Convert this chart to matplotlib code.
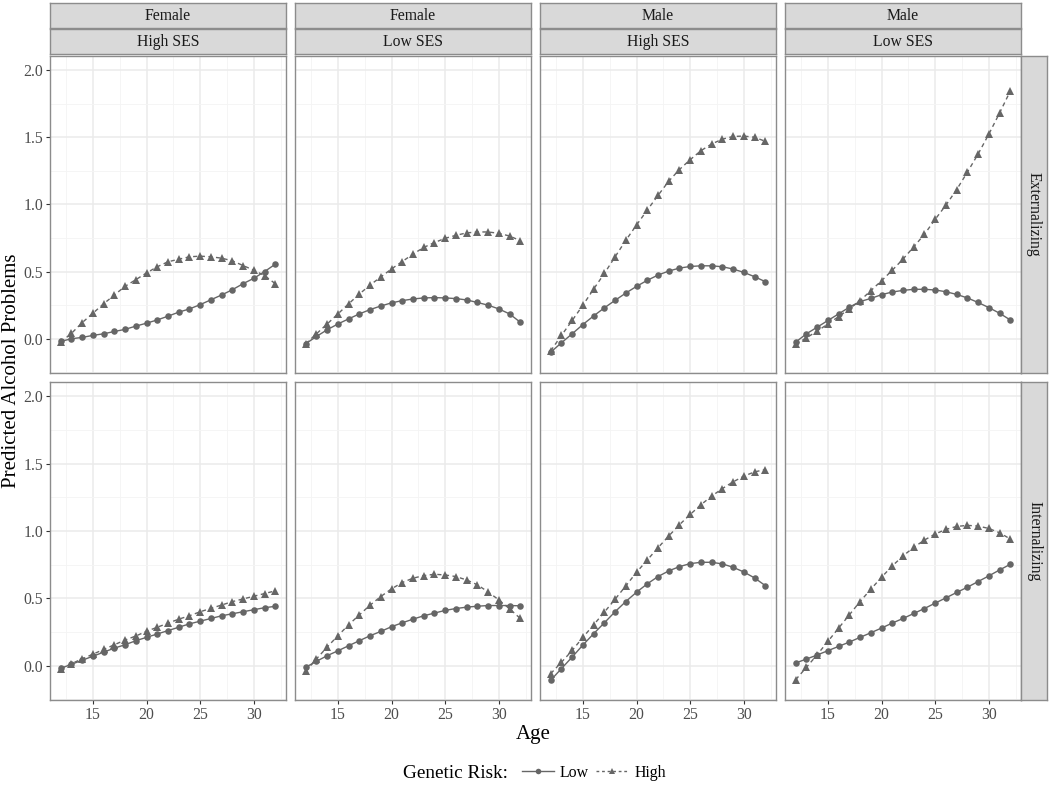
import matplotlib

matplotlib.use("Agg")

import matplotlib.pyplot as plt
from matplotlib.lines import Line2D

plt.rcParams["font.family"] = ["Liberation Serif", "DejaVu Serif"]

W, H = 1050, 785

ages = [12, 13, 14, 15, 16, 17, 18, 19, 20, 21, 22, 23, 24, 25, 26, 27, 28, 29, 30, 31, 32]

sex_labels = ["Female", "Female", "Male", "Male"]
ses_labels = ["High SES", "Low SES", "High SES", "Low SES"]
outcome_labels = ["Externalizing", "Internalizing"]

# Externalizing
ext_fh_low = [-0.02, 0.00, 0.01, 0.025, 0.037, 0.054, 0.07, 0.094, 0.116, 0.14, 0.168,
              0.198, 0.222, 0.254, 0.29, 0.326, 0.365, 0.41, 0.45, 0.50, 0.555]
ext_fh_high = [-0.025, 0.04, 0.12, 0.19, 0.26, 0.326, 0.39, 0.44, 0.49, 0.536, 0.573,
               0.592, 0.61, 0.615, 0.61, 0.60, 0.58, 0.545, 0.51, 0.47, 0.41]
ext_fl_low = [-0.037, 0.017, 0.067, 0.11, 0.148, 0.185, 0.217, 0.244, 0.267, 0.284, 0.296,
              0.304, 0.306, 0.304, 0.299, 0.289, 0.27, 0.25, 0.222, 0.185, 0.123]
ext_fl_high = [-0.037, 0.037, 0.11, 0.185, 0.26, 0.333, 0.40, 0.46, 0.52, 0.575, 0.63,
               0.68, 0.716, 0.748, 0.77, 0.788, 0.795, 0.795, 0.785, 0.765, 0.73]
ext_mh_low = [-0.10, -0.03, 0.037, 0.106, 0.17, 0.23, 0.286, 0.34, 0.39, 0.435, 0.474,
              0.504, 0.526, 0.538, 0.543, 0.543, 0.536, 0.519, 0.494, 0.462, 0.425]
ext_mh_high = [-0.09, 0.025, 0.136, 0.25, 0.37, 0.486, 0.61, 0.733, 0.847, 0.958, 1.067,
               1.173, 1.26, 1.333, 1.40, 1.45, 1.486, 1.506, 1.509, 1.50, 1.47]
ext_ml_low = [-0.025, 0.037, 0.086, 0.136, 0.185, 0.235, 0.277, 0.30, 0.328, 0.348, 0.36,
              0.368, 0.368, 0.363, 0.35, 0.33, 0.304, 0.27, 0.232, 0.19, 0.14]
ext_ml_high = [-0.042, 0.007, 0.057, 0.11, 0.165, 0.222, 0.284, 0.358, 0.432, 0.51, 0.593,
               0.684, 0.778, 0.889, 0.995, 1.11, 1.24, 1.375, 1.523, 1.68, 1.844]

# Internalizing
int_fh_low = [-0.02, 0.01, 0.04, 0.07, 0.10, 0.13, 0.155, 0.185, 0.21, 0.235, 0.26,
              0.285, 0.31, 0.33, 0.35, 0.37, 0.385, 0.40, 0.415, 0.43, 0.44]
int_fh_high = [-0.025, 0.015, 0.05, 0.085, 0.12, 0.155, 0.19, 0.22, 0.255, 0.285, 0.315,
               0.345, 0.37, 0.40, 0.425, 0.45, 0.475, 0.495, 0.515, 0.535, 0.555]
int_fl_low = [-0.012, 0.032, 0.074, 0.11, 0.148, 0.185, 0.222, 0.254, 0.289, 0.318, 0.345,
              0.37, 0.39, 0.41, 0.424, 0.434, 0.441, 0.446, 0.446, 0.446, 0.444]
int_fl_high = [-0.042, 0.05, 0.138, 0.222, 0.303, 0.377, 0.449, 0.513, 0.57, 0.617, 0.649,
               0.668, 0.678, 0.673, 0.661, 0.636, 0.60, 0.547, 0.488, 0.422, 0.35]
int_mh_low = [-0.108, -0.022, 0.064, 0.153, 0.237, 0.318, 0.40, 0.476, 0.545, 0.607, 0.661,
              0.703, 0.735, 0.757, 0.767, 0.767, 0.755, 0.73, 0.695, 0.651, 0.594]
int_mh_high = [-0.059, 0.025, 0.113, 0.21, 0.303, 0.397, 0.493, 0.592, 0.693, 0.784, 0.875,
               0.962, 1.046, 1.122, 1.194, 1.258, 1.314, 1.364, 1.406, 1.438, 1.455]
int_ml_low = [0.02, 0.049, 0.079, 0.111, 0.143, 0.175, 0.21, 0.244, 0.279, 0.316, 0.35,
              0.387, 0.424, 0.464, 0.503, 0.543, 0.582, 0.624, 0.666, 0.71, 0.752]
int_ml_high = [-0.104, -0.012, 0.081, 0.18, 0.279, 0.377, 0.476, 0.567, 0.656, 0.74, 0.814,
               0.878, 0.932, 0.977, 1.011, 1.033, 1.041, 1.036, 1.018, 0.986, 0.94]

low_series = [[ext_fh_low, ext_fl_low, ext_mh_low, ext_ml_low],
              [int_fh_low, int_fl_low, int_mh_low, int_ml_low]]
high_series = [[ext_fh_high, ext_fl_high, ext_mh_high, ext_ml_high],
               [int_fh_high, int_fl_high, int_mh_high, int_ml_high]]

x_ticks = [15, 20, 25, 30]
y_ticks = [0.0, 0.5, 1.0, 1.5, 2.0]

GREY = "#666666"
STRIP_FILL = "#D9D9D9"
STRIP_EDGE = "#8C8C8C"
BORDER = "#8C8C8C"


def rect(x0, y0, x1, y1):
    """caja en pixeles (origen arriba-izquierda) -> fraccion de figura"""
    return [x0 / W, 1 - y1 / H, (x1 - x0) / W, (y1 - y0) / H]


def strip(fig, box, text, rotation=0):
    ax = fig.add_axes(rect(*box))
    ax.set_facecolor(STRIP_FILL)
    ax.set_xticks([])
    ax.set_yticks([])
    for s in ax.spines.values():
        s.set_color(STRIP_EDGE)
        s.set_linewidth(1.0)
    ax.text(0.5, 0.5, text, transform=ax.transAxes, ha="center", va="center",
            fontsize=11.3, color="#1A1A1A", rotation=rotation)
    return ax


fig = plt.figure(figsize=(W / 100, H / 100), dpi=100)

col_left = [50, 295, 540, 785]
panel_w = 236
row_box = [(56, 373), (382, 700)]

for r in range(2):
    for c in range(4):
        x0 = col_left[c]
        y0, y1 = row_box[r]
        ax = fig.add_axes(rect(x0, y0, x0 + panel_w, y1))
        ax.set_xlim(11, 33)
        ax.set_ylim(-0.255, 2.105)
        ax.set_xticks(x_ticks)
        ax.set_xticks([12.5, 17.5, 22.5, 27.5, 32.5], minor=True)
        ax.set_yticks(y_ticks)
        ax.set_yticks([-0.25, 0.25, 0.75, 1.25, 1.75], minor=True)
        ax.grid(which="major", color="#EBEBEB", linewidth=1.1)
        ax.grid(which="minor", color="#F4F4F4", linewidth=0.6)
        ax.set_axisbelow(True)
        for s in ax.spines.values():
            s.set_color(BORDER)
            s.set_linewidth(1.0)
        ax.tick_params(which="minor", length=0)
        ax.tick_params(which="major", length=3, width=0.8, color="#333333",
                       labelsize=11.3, labelcolor="#4D4D4D", pad=2)
        if c > 0:
            ax.tick_params(axis="y", labelleft=False, length=0)
        else:
            ax.set_yticklabels([f"{v:.1f}" for v in y_ticks])
        if r == 0:
            ax.tick_params(axis="x", labelbottom=False, length=0)

        ax.plot(ages, low_series[r][c], color=GREY, linewidth=1.0, linestyle="-",
                marker="o", markersize=4.7, markeredgewidth=0, zorder=3)
        ax.plot(ages, high_series[r][c], color=GREY, linewidth=1.0, linestyle=(0, (3, 2.5)),
                marker="^", markersize=5.6, markeredgewidth=0, zorder=3)

        if r == 0:
            strip(fig, (x0, 3, x0 + panel_w, 28), sex_labels[c])
            strip(fig, (x0, 29, x0 + panel_w, 54), ses_labels[c])
        if c == 3:
            strip(fig, (1021, y0, 1047, y1), outcome_labels[r], rotation=-90)

fig.text(12 / W, 1 - 371 / H, "Predicted Alcohol Problems", rotation=90,
         ha="center", va="center", fontsize=15)
fig.text(533 / W, 1 - 735 / H, "Age", ha="center", va="center", fontsize=15)

fig.text(403 / W, 1 - 773 / H, "Genetic Risk:", ha="left", va="center", fontsize=13.9)
handles = [
    Line2D([], [], color=GREY, linewidth=1.0, marker="o", markersize=4, markeredgewidth=0),
    Line2D([], [], color=GREY, linewidth=1.0, linestyle=(0, (2, 2)), marker="^",
           markersize=5, markeredgewidth=0),
]
fig.legend(handles, ["Low", "High"], loc="center left", bbox_to_anchor=(522 / W, 1 - 773 / H),
           ncol=2, frameon=False, fontsize=11.4, handlelength=2.05, handletextpad=0.35,
           columnspacing=0.45, borderaxespad=0, borderpad=0)

fig.savefig("out.png", dpi=100)
